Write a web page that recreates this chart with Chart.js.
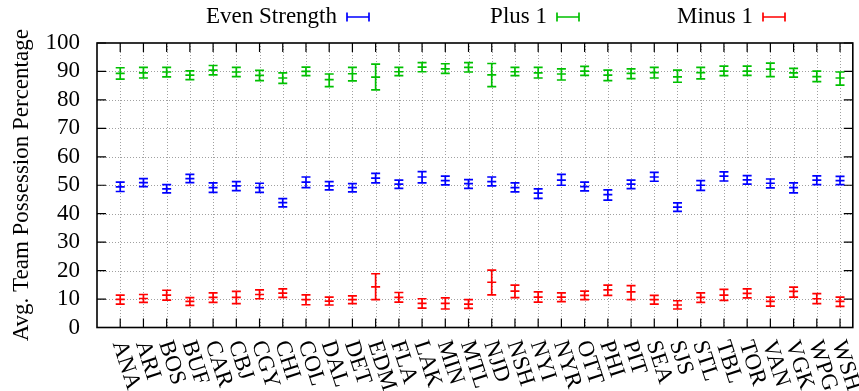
<!DOCTYPE html>
<html>
<head>
<meta charset="utf-8">
<script src="https://cdn.jsdelivr.net/npm/chart.js@4.4.1/dist/chart.umd.min.js"></script>
<style>
  html, body { margin: 0; padding: 0; background: #fff; }
  #wrap { width: 859px; height: 391px; position: relative; }
</style>
</head>
<body>
<div id="wrap"><canvas id="c"></canvas></div>
<script>
// Teams on the x axis
const teams = ['ANA','ARI','BOS','BUF','CAR','CBJ','CGY','CHI','COL','DAL','DET','EDM','FLA','LAK','MIN','MTL',
               'NJD','NSH','NYI','NYR','OTT','PHI','PIT','SEA','SJS','STL','TBL','TOR','VAN','VGK','WPG','WSH'];

// Even strength: mean and error range
const evenMean = [49.4,50.9,48.7,52.3,49.2,49.8,49.2,43.9,51.1,49.8,49.2,52.5,50.4,52.9,51.6,50.6,
                  51.3,49.2,47.2,51.8,49.5,46.7,50.4,52.9,42.3,50.0,53.2,51.9,50.7,49.2,51.8,51.6];
const evenLow  = [47.8,49.5,47.3,50.9,47.5,48.1,47.5,42.4,49.2,48.4,47.7,50.8,48.9,50.8,50.1,48.9,
                  49.8,47.7,45.4,50.0,48.0,44.8,48.8,51.4,40.8,48.2,51.5,50.4,49.1,47.3,50.2,50.2];
const evenHigh = [51.1,52.3,50.2,53.8,50.8,51.3,50.7,45.3,52.9,51.3,50.6,54.2,51.8,54.8,53.2,52.0,
                  52.9,50.8,48.7,53.8,51.1,48.4,51.8,54.5,43.8,51.6,54.7,53.4,52.2,50.8,53.3,53.1];

// Plus 1
const plusMean = [89.3,89.5,89.8,88.7,90.5,89.8,88.6,87.7,90.0,87.1,89.2,88.0,89.9,91.5,90.9,91.4,
                  88.8,89.9,89.5,89.1,90.1,88.7,89.3,89.6,88.1,89.6,90.1,90.1,90.8,89.5,88.2,87.7];
const plusLow  = [87.3,87.7,88.1,87.1,88.8,88.2,86.8,85.8,88.5,84.7,86.7,83.5,88.5,89.9,89.3,89.8,
                  84.7,88.5,87.7,87.0,88.6,86.8,87.5,87.7,86.2,87.4,88.5,88.6,88.2,88.0,86.4,85.2];
const plusHigh = [91.3,91.4,91.4,90.2,92.1,91.4,90.4,89.5,91.5,89.1,91.4,92.6,91.4,93.1,92.7,93.1,
                  92.8,91.4,91.4,90.9,91.8,90.5,90.9,91.4,90.5,91.4,91.9,91.9,92.9,91.1,90.1,89.8];

// Minus 1
const minusMean = [9.9,10.2,11.4,9.2,10.6,10.6,11.6,12.1,9.8,9.3,9.8,14.3,10.6,8.5,8.5,8.2,
                   15.9,12.8,10.7,10.7,11.3,13.2,12.5,9.8,7.9,10.6,11.4,12.0,9.2,12.7,10.1,9.2];
const minusLow  = [8.2,8.8,9.6,7.8,8.8,8.4,10.1,10.6,8.0,7.9,8.4,9.8,8.9,6.8,6.5,6.7,
                   11.5,10.5,8.9,9.1,9.8,11.3,9.8,8.2,6.5,8.8,9.5,10.4,7.5,10.7,8.4,7.4];
const minusHigh = [11.4,11.6,13.1,10.5,12.2,12.7,13.2,13.6,11.5,10.7,11.1,18.9,12.3,10.1,10.4,9.8,
                   20.2,14.9,12.5,12.2,12.8,14.9,14.7,11.3,9.4,12.2,13.4,13.6,10.7,14.2,11.9,10.7];

const yTicks = [0,10,20,30,40,50,60,70,80,90,100];

const FONT = '"Liberation Serif", "Times New Roman", serif';
const FONT_SIZE = 23;

function series(label, color, mean, low, high) {
  return {
    label, type: 'scatter',
    data: teams.map((t, i) => ({ x: i + 1, y: mean[i], lo: low[i], hi: high[i] })),
    borderColor: color, backgroundColor: color,
    pointStyle: 'line', pointRadius: 4.5, pointBorderWidth: 1.7, pointHoverRadius: 4.5,
    errColor: color
  };
}

// grid, frame and inward tick marks
const framePlugin = {
  id: 'frame',
  beforeDatasetsDraw(chart) {
    const { ctx, chartArea: a, scales: { x, y } } = chart;
    ctx.save();
    ctx.lineWidth = 1;
    ctx.strokeStyle = '#a0a0a0';
    ctx.setLineDash([1, 2]);
    yTicks.forEach(v => {
      if (v === 0 || v === 100) return;
      const py = Math.round(y.getPixelForValue(v)) + 0.5;
      ctx.beginPath(); ctx.moveTo(a.left, py); ctx.lineTo(a.right, py); ctx.stroke();
    });
    teams.forEach((t, i) => {
      const px = Math.round(x.getPixelForValue(i + 1)) + 0.5;
      ctx.beginPath(); ctx.moveTo(px, a.top); ctx.lineTo(px, a.bottom); ctx.stroke();
    });
    ctx.setLineDash([]);
    ctx.strokeStyle = '#000';
    ctx.lineWidth = 1.2;
    const tl = 9;
    yTicks.forEach(v => {
      const py = y.getPixelForValue(v);
      ctx.beginPath();
      ctx.moveTo(a.left, py); ctx.lineTo(a.left + tl, py);
      ctx.moveTo(a.right, py); ctx.lineTo(a.right - tl, py);
      ctx.stroke();
    });
    teams.forEach((t, i) => {
      const px = x.getPixelForValue(i + 1);
      ctx.beginPath();
      ctx.moveTo(px, a.bottom); ctx.lineTo(px, a.bottom - tl);
      ctx.moveTo(px, a.top); ctx.lineTo(px, a.top + tl);
      ctx.stroke();
    });
    ctx.lineWidth = 1.6;
    ctx.strokeRect(a.left, a.top, a.right - a.left, a.bottom - a.top);
    ctx.restore();
  }
};

// vertical error bars with caps
const errorBarPlugin = {
  id: 'errorBars',
  afterDatasetsDraw(chart) {
    const { ctx, scales: { x, y } } = chart;
    const cap = 4.5;
    ctx.save();
    chart.data.datasets.forEach(ds => {
      ctx.strokeStyle = ds.errColor;
      ctx.lineWidth = 1.7;
      ds.data.forEach(p => {
        const px = x.getPixelForValue(p.x);
        const pLo = y.getPixelForValue(p.lo);
        const pHi = y.getPixelForValue(p.hi);
        ctx.beginPath();
        ctx.moveTo(px, pLo); ctx.lineTo(px, pHi);
        ctx.moveTo(px - cap, pLo); ctx.lineTo(px + cap, pLo);
        ctx.moveTo(px - cap, pHi); ctx.lineTo(px + cap, pHi);
        ctx.stroke();
      });
    });
    ctx.restore();
  }
};

// rotated team labels, axis title and key
const textPlugin = {
  id: 'texts',
  afterDraw(chart) {
    const { ctx, chartArea: a, scales: { x } } = chart;
    ctx.save();
    ctx.fillStyle = '#000';
    ctx.font = FONT_SIZE + 'px ' + FONT;
    ctx.textAlign = 'left';
    ctx.textBaseline = 'middle';
    const ang = 72 * Math.PI / 180;
    teams.forEach((t, i) => {
      const px = x.getPixelForValue(i + 1);
      ctx.save();
      ctx.translate(px - 2, a.bottom + 14);
      ctx.rotate(ang);
      ctx.fillText(t, 0, 0);
      ctx.restore();
    });

    ctx.save();
    ctx.translate(22, (a.top + a.bottom) / 2);
    ctx.rotate(-Math.PI / 2);
    ctx.textAlign = 'center';
    ctx.fillText('Avg. Team Possession Percentage', 0, 0);
    ctx.restore();

    // key: label right-aligned, then a horizontal error bar sample
    const keyY = 17;
    const sw = 22;
    chart.data.datasets.forEach((ds, k) => {
      const textRight = [337, 547, 753][k];
      ctx.textAlign = 'right';
      ctx.fillStyle = '#000';
      ctx.fillText(ds.label, textRight, keyY);
      const x0 = textRight + 10, x1 = x0 + sw;
      ctx.strokeStyle = ds.errColor;
      ctx.lineWidth = 1.7;
      ctx.beginPath();
      ctx.moveTo(x0, keyY); ctx.lineTo(x1, keyY);
      ctx.moveTo(x0, keyY - 4.5); ctx.lineTo(x0, keyY + 4.5);
      ctx.moveTo(x1, keyY - 4.5); ctx.lineTo(x1, keyY + 4.5);
      ctx.stroke();
    });
    ctx.restore();
  }
};

new Chart(document.getElementById('c'), {
  type: 'scatter',
  data: {
    datasets: [
      series('Even Strength', '#0000ff', evenMean, evenLow, evenHigh),
      series('Plus 1', '#00c000', plusMean, plusLow, plusHigh),
      series('Minus 1', '#ff0000', minusMean, minusLow, minusHigh)
    ]
  },
  options: {
    responsive: true,
    maintainAspectRatio: false,
    animation: false,
    events: [],
    layout: { padding: { top: 43, right: 2, left: 0, bottom: 0 } },
    plugins: { legend: { display: false }, tooltip: { enabled: false } },
    scales: {
      x: {
        type: 'linear', min: 0, max: 32.55,
        grid: { display: false }, border: { display: false },
        ticks: { display: false },
        afterFit(s) { s.height = 63.5; }
      },
      y: {
        type: 'linear', min: 0, max: 100,
        grid: { display: false }, border: { display: false },
        afterBuildTicks(s) { s.ticks = yTicks.map(v => ({ value: v })); },
        ticks: {
          color: '#000', padding: 9, autoSkip: false,
          font: { family: FONT, size: FONT_SIZE }
        },
        afterFit(s) { s.width = 97; }
      }
    }
  },
  plugins: [framePlugin, errorBarPlugin, textPlugin]
});
</script>
</body>
</html>
